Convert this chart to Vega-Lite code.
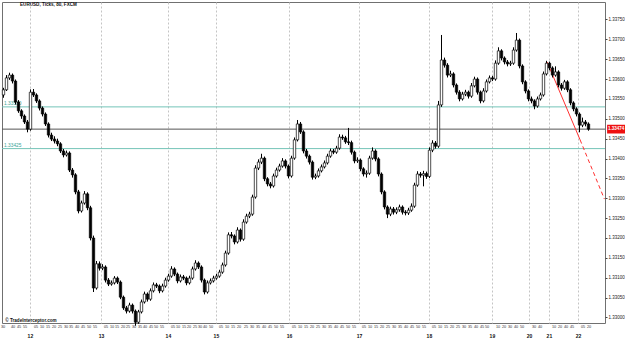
{
"$schema": "https://vega.github.io/schema/vega-lite/v6.json",
"width": 603, "height": 321,
"autosize": "none",
"padding": {"left": 2, "top": 2, "right": 20, "bottom": 20},
"background": "white",
"config": {"view": {"stroke": "#707070", "strokeWidth": 1}, "font": "Liberation Sans", "axis": {"grid": false}},
"datasets": {
"bars": [
{"t":0,"o":1.33560,"h":1.33578,"l":1.33553,"c":1.33573},
{"t":1,"o":1.33573,"h":1.33610,"l":1.33570,"c":1.33603},
{"t":2,"o":1.33603,"h":1.33616,"l":1.33598,"c":1.33610},
{"t":3,"o":1.33610,"h":1.33614,"l":1.33589,"c":1.33595},
{"t":4,"o":1.33595,"h":1.33599,"l":1.33536,"c":1.33542},
{"t":5,"o":1.33542,"h":1.33547,"l":1.33515,"c":1.33520},
{"t":6,"o":1.33520,"h":1.33524,"l":1.33500,"c":1.33507},
{"t":7,"o":1.33507,"h":1.33511,"l":1.33487,"c":1.33492},
{"t":8,"o":1.33492,"h":1.33497,"l":1.33466,"c":1.33474},
{"t":9,"o":1.33474,"h":1.33574,"l":1.33470,"c":1.33567},
{"t":10,"o":1.33567,"h":1.33575,"l":1.33555,"c":1.33560},
{"t":11,"o":1.33560,"h":1.33564,"l":1.33540,"c":1.33545},
{"t":12,"o":1.33545,"h":1.33549,"l":1.33521,"c":1.33527},
{"t":13,"o":1.33527,"h":1.33531,"l":1.33506,"c":1.33512},
{"t":14,"o":1.33512,"h":1.33516,"l":1.33482,"c":1.33487},
{"t":15,"o":1.33487,"h":1.33491,"l":1.33453,"c":1.33459},
{"t":16,"o":1.33459,"h":1.33465,"l":1.33444,"c":1.33449},
{"t":17,"o":1.33449,"h":1.33456,"l":1.33438,"c":1.33444},
{"t":18,"o":1.33444,"h":1.33450,"l":1.33431,"c":1.33437},
{"t":19,"o":1.33437,"h":1.33441,"l":1.33414,"c":1.33419},
{"t":20,"o":1.33419,"h":1.33424,"l":1.33403,"c":1.33409},
{"t":21,"o":1.33409,"h":1.33420,"l":1.33405,"c":1.33414},
{"t":22,"o":1.33414,"h":1.33418,"l":1.33366,"c":1.33371},
{"t":23,"o":1.33371,"h":1.33376,"l":1.33352,"c":1.33359},
{"t":24,"o":1.33359,"h":1.33363,"l":1.33310,"c":1.33316},
{"t":25,"o":1.33316,"h":1.33321,"l":1.33262,"c":1.33268},
{"t":26,"o":1.33268,"h":1.33294,"l":1.33264,"c":1.33288},
{"t":27,"o":1.33288,"h":1.33318,"l":1.33284,"c":1.33311},
{"t":28,"o":1.33311,"h":1.33315,"l":1.33270,"c":1.33276},
{"t":29,"o":1.33276,"h":1.33281,"l":1.33194,"c":1.33200},
{"t":30,"o":1.33200,"h":1.33206,"l":1.33064,"c":1.33074},
{"t":31,"o":1.33074,"h":1.33142,"l":1.33070,"c":1.33135},
{"t":32,"o":1.33135,"h":1.33141,"l":1.33118,"c":1.33124},
{"t":33,"o":1.33124,"h":1.33134,"l":1.33119,"c":1.33127},
{"t":34,"o":1.33127,"h":1.33131,"l":1.33088,"c":1.33094},
{"t":35,"o":1.33094,"h":1.33099,"l":1.33079,"c":1.33084},
{"t":36,"o":1.33084,"h":1.33093,"l":1.33080,"c":1.33087},
{"t":37,"o":1.33087,"h":1.33104,"l":1.33083,"c":1.33099},
{"t":38,"o":1.33099,"h":1.33103,"l":1.33084,"c":1.33089},
{"t":39,"o":1.33089,"h":1.33093,"l":1.33046,"c":1.33051},
{"t":40,"o":1.33051,"h":1.33055,"l":1.33019,"c":1.33024},
{"t":41,"o":1.33024,"h":1.33029,"l":1.33010,"c":1.33016},
{"t":42,"o":1.33016,"h":1.33037,"l":1.33012,"c":1.33031},
{"t":43,"o":1.33031,"h":1.33035,"l":1.33010,"c":1.33016},
{"t":44,"o":1.33016,"h":1.33020,"l":1.32979,"c":1.32988},
{"t":45,"o":1.32988,"h":1.33019,"l":1.32984,"c":1.33014},
{"t":46,"o":1.33014,"h":1.33045,"l":1.33010,"c":1.33039},
{"t":47,"o":1.33039,"h":1.33065,"l":1.33035,"c":1.33059},
{"t":48,"o":1.33059,"h":1.33063,"l":1.33040,"c":1.33046},
{"t":49,"o":1.33046,"h":1.33073,"l":1.33042,"c":1.33067},
{"t":50,"o":1.33067,"h":1.33088,"l":1.33063,"c":1.33082},
{"t":51,"o":1.33082,"h":1.33087,"l":1.33074,"c":1.33079},
{"t":52,"o":1.33079,"h":1.33083,"l":1.33061,"c":1.33067},
{"t":53,"o":1.33067,"h":1.33085,"l":1.33063,"c":1.33079},
{"t":54,"o":1.33079,"h":1.33100,"l":1.33075,"c":1.33094},
{"t":55,"o":1.33094,"h":1.33110,"l":1.33090,"c":1.33104},
{"t":56,"o":1.33104,"h":1.33129,"l":1.33100,"c":1.33122},
{"t":57,"o":1.33122,"h":1.33126,"l":1.33104,"c":1.33109},
{"t":58,"o":1.33109,"h":1.33113,"l":1.33086,"c":1.33092},
{"t":59,"o":1.33092,"h":1.33108,"l":1.33088,"c":1.33102},
{"t":60,"o":1.33102,"h":1.33107,"l":1.33094,"c":1.33099},
{"t":61,"o":1.33099,"h":1.33103,"l":1.33081,"c":1.33087},
{"t":62,"o":1.33087,"h":1.33105,"l":1.33083,"c":1.33099},
{"t":63,"o":1.33099,"h":1.33128,"l":1.33095,"c":1.33122},
{"t":64,"o":1.33122,"h":1.33144,"l":1.33118,"c":1.33137},
{"t":65,"o":1.33137,"h":1.33141,"l":1.33122,"c":1.33127},
{"t":66,"o":1.33127,"h":1.33131,"l":1.33088,"c":1.33094},
{"t":67,"o":1.33094,"h":1.33098,"l":1.33058,"c":1.33064},
{"t":68,"o":1.33064,"h":1.33093,"l":1.33060,"c":1.33087},
{"t":69,"o":1.33087,"h":1.33098,"l":1.33083,"c":1.33092},
{"t":70,"o":1.33092,"h":1.33105,"l":1.33088,"c":1.33099},
{"t":71,"o":1.33099,"h":1.33110,"l":1.33095,"c":1.33104},
{"t":72,"o":1.33104,"h":1.33120,"l":1.33100,"c":1.33114},
{"t":73,"o":1.33114,"h":1.33138,"l":1.33110,"c":1.33132},
{"t":74,"o":1.33132,"h":1.33168,"l":1.33128,"c":1.33162},
{"t":75,"o":1.33162,"h":1.33214,"l":1.33158,"c":1.33208},
{"t":76,"o":1.33208,"h":1.33215,"l":1.33199,"c":1.33205},
{"t":77,"o":1.33205,"h":1.33209,"l":1.33184,"c":1.33190},
{"t":78,"o":1.33190,"h":1.33227,"l":1.33186,"c":1.33220},
{"t":79,"o":1.33220,"h":1.33224,"l":1.33191,"c":1.33197},
{"t":80,"o":1.33197,"h":1.33247,"l":1.33193,"c":1.33240},
{"t":81,"o":1.33240,"h":1.33261,"l":1.33236,"c":1.33255},
{"t":82,"o":1.33255,"h":1.33266,"l":1.33250,"c":1.33260},
{"t":83,"o":1.33260,"h":1.33309,"l":1.33256,"c":1.33303},
{"t":84,"o":1.33303,"h":1.33383,"l":1.33299,"c":1.33376},
{"t":85,"o":1.33376,"h":1.33398,"l":1.33371,"c":1.33391},
{"t":86,"o":1.33391,"h":1.33412,"l":1.33386,"c":1.33401},
{"t":87,"o":1.33401,"h":1.33405,"l":1.33343,"c":1.33349},
{"t":88,"o":1.33349,"h":1.33353,"l":1.33330,"c":1.33336},
{"t":89,"o":1.33336,"h":1.33341,"l":1.33325,"c":1.33331},
{"t":90,"o":1.33331,"h":1.33362,"l":1.33327,"c":1.33356},
{"t":91,"o":1.33356,"h":1.33377,"l":1.33352,"c":1.33371},
{"t":92,"o":1.33371,"h":1.33387,"l":1.33367,"c":1.33381},
{"t":93,"o":1.33381,"h":1.33401,"l":1.33377,"c":1.33394},
{"t":94,"o":1.33394,"h":1.33398,"l":1.33375,"c":1.33381},
{"t":95,"o":1.33381,"h":1.33385,"l":1.33350,"c":1.33356},
{"t":96,"o":1.33356,"h":1.33407,"l":1.33352,"c":1.33401},
{"t":97,"o":1.33401,"h":1.33453,"l":1.33397,"c":1.33447},
{"t":98,"o":1.33447,"h":1.33497,"l":1.33443,"c":1.33487},
{"t":99,"o":1.33487,"h":1.33492,"l":1.33462,"c":1.33467},
{"t":100,"o":1.33467,"h":1.33471,"l":1.33413,"c":1.33419},
{"t":101,"o":1.33419,"h":1.33424,"l":1.33400,"c":1.33406},
{"t":102,"o":1.33406,"h":1.33410,"l":1.33385,"c":1.33391},
{"t":103,"o":1.33391,"h":1.33395,"l":1.33347,"c":1.33353},
{"t":104,"o":1.33353,"h":1.33362,"l":1.33348,"c":1.33356},
{"t":105,"o":1.33356,"h":1.33375,"l":1.33352,"c":1.33369},
{"t":106,"o":1.33369,"h":1.33385,"l":1.33365,"c":1.33379},
{"t":107,"o":1.33379,"h":1.33395,"l":1.33375,"c":1.33389},
{"t":108,"o":1.33389,"h":1.33412,"l":1.33385,"c":1.33406},
{"t":109,"o":1.33406,"h":1.33425,"l":1.33402,"c":1.33419},
{"t":110,"o":1.33419,"h":1.33424,"l":1.33411,"c":1.33416},
{"t":111,"o":1.33416,"h":1.33432,"l":1.33412,"c":1.33426},
{"t":112,"o":1.33426,"h":1.33461,"l":1.33422,"c":1.33454},
{"t":113,"o":1.33454,"h":1.33460,"l":1.33447,"c":1.33452},
{"t":114,"o":1.33452,"h":1.33457,"l":1.33437,"c":1.33442},
{"t":115,"o":1.33442,"h":1.33477,"l":1.33434,"c":1.33440},
{"t":116,"o":1.33440,"h":1.33445,"l":1.33410,"c":1.33416},
{"t":117,"o":1.33416,"h":1.33420,"l":1.33388,"c":1.33394},
{"t":118,"o":1.33394,"h":1.33403,"l":1.33389,"c":1.33396},
{"t":119,"o":1.33396,"h":1.33400,"l":1.33368,"c":1.33374},
{"t":120,"o":1.33374,"h":1.33378,"l":1.33355,"c":1.33361},
{"t":121,"o":1.33361,"h":1.33370,"l":1.33352,"c":1.33363},
{"t":122,"o":1.33363,"h":1.33407,"l":1.33359,"c":1.33401},
{"t":123,"o":1.33401,"h":1.33428,"l":1.33397,"c":1.33419},
{"t":124,"o":1.33419,"h":1.33423,"l":1.33393,"c":1.33399},
{"t":125,"o":1.33399,"h":1.33403,"l":1.33355,"c":1.33361},
{"t":126,"o":1.33361,"h":1.33365,"l":1.33310,"c":1.33316},
{"t":127,"o":1.33316,"h":1.33320,"l":1.33272,"c":1.33278},
{"t":128,"o":1.33278,"h":1.33282,"l":1.33250,"c":1.33260},
{"t":129,"o":1.33260,"h":1.33279,"l":1.33255,"c":1.33273},
{"t":130,"o":1.33273,"h":1.33278,"l":1.33259,"c":1.33265},
{"t":131,"o":1.33265,"h":1.33277,"l":1.33260,"c":1.33271},
{"t":132,"o":1.33271,"h":1.33284,"l":1.33266,"c":1.33278},
{"t":133,"o":1.33278,"h":1.33282,"l":1.33259,"c":1.33265},
{"t":134,"o":1.33265,"h":1.33270,"l":1.33257,"c":1.33263},
{"t":135,"o":1.33263,"h":1.33276,"l":1.33258,"c":1.33270},
{"t":136,"o":1.33270,"h":1.33287,"l":1.33266,"c":1.33280},
{"t":137,"o":1.33280,"h":1.33339,"l":1.33276,"c":1.33333},
{"t":138,"o":1.33333,"h":1.33368,"l":1.33329,"c":1.33361},
{"t":139,"o":1.33361,"h":1.33366,"l":1.33352,"c":1.33358},
{"t":140,"o":1.33358,"h":1.33369,"l":1.33330,"c":1.33362},
{"t":141,"o":1.33362,"h":1.33367,"l":1.33349,"c":1.33355},
{"t":142,"o":1.33355,"h":1.33428,"l":1.33351,"c":1.33421},
{"t":143,"o":1.33421,"h":1.33446,"l":1.33416,"c":1.33439},
{"t":144,"o":1.33439,"h":1.33444,"l":1.33425,"c":1.33431},
{"t":145,"o":1.33431,"h":1.33545,"l":1.33427,"c":1.33535},
{"t":146,"o":1.33535,"h":1.33711,"l":1.33530,"c":1.33648},
{"t":147,"o":1.33648,"h":1.33654,"l":1.33629,"c":1.33635},
{"t":148,"o":1.33635,"h":1.33640,"l":1.33604,"c":1.33610},
{"t":149,"o":1.33610,"h":1.33621,"l":1.33605,"c":1.33613},
{"t":150,"o":1.33613,"h":1.33617,"l":1.33579,"c":1.33585},
{"t":151,"o":1.33585,"h":1.33589,"l":1.33561,"c":1.33567},
{"t":152,"o":1.33567,"h":1.33572,"l":1.33544,"c":1.33550},
{"t":153,"o":1.33550,"h":1.33568,"l":1.33546,"c":1.33562},
{"t":154,"o":1.33562,"h":1.33573,"l":1.33557,"c":1.33567},
{"t":155,"o":1.33567,"h":1.33571,"l":1.33551,"c":1.33557},
{"t":156,"o":1.33557,"h":1.33590,"l":1.33553,"c":1.33583},
{"t":157,"o":1.33583,"h":1.33606,"l":1.33579,"c":1.33600},
{"t":158,"o":1.33600,"h":1.33604,"l":1.33561,"c":1.33567},
{"t":159,"o":1.33567,"h":1.33571,"l":1.33539,"c":1.33545},
{"t":160,"o":1.33545,"h":1.33577,"l":1.33541,"c":1.33570},
{"t":161,"o":1.33570,"h":1.33599,"l":1.33566,"c":1.33593},
{"t":162,"o":1.33593,"h":1.33609,"l":1.33589,"c":1.33603},
{"t":163,"o":1.33603,"h":1.33608,"l":1.33595,"c":1.33600},
{"t":164,"o":1.33600,"h":1.33647,"l":1.33596,"c":1.33640},
{"t":165,"o":1.33640,"h":1.33680,"l":1.33636,"c":1.33671},
{"t":166,"o":1.33671,"h":1.33675,"l":1.33647,"c":1.33653},
{"t":167,"o":1.33653,"h":1.33657,"l":1.33637,"c":1.33643},
{"t":168,"o":1.33643,"h":1.33648,"l":1.33632,"c":1.33638},
{"t":169,"o":1.33638,"h":1.33646,"l":1.33633,"c":1.33640},
{"t":170,"o":1.33640,"h":1.33680,"l":1.33636,"c":1.33673},
{"t":171,"o":1.33673,"h":1.33716,"l":1.33669,"c":1.33698},
{"t":172,"o":1.33698,"h":1.33702,"l":1.33627,"c":1.33633},
{"t":173,"o":1.33633,"h":1.33637,"l":1.33587,"c":1.33593},
{"t":174,"o":1.33593,"h":1.33597,"l":1.33564,"c":1.33570},
{"t":175,"o":1.33570,"h":1.33574,"l":1.33544,"c":1.33550},
{"t":176,"o":1.33550,"h":1.33556,"l":1.33539,"c":1.33545},
{"t":177,"o":1.33545,"h":1.33549,"l":1.33524,"c":1.33532},
{"t":178,"o":1.33532,"h":1.33556,"l":1.33528,"c":1.33550},
{"t":179,"o":1.33550,"h":1.33566,"l":1.33546,"c":1.33560},
{"t":180,"o":1.33560,"h":1.33619,"l":1.33556,"c":1.33613},
{"t":181,"o":1.33613,"h":1.33646,"l":1.33609,"c":1.33640},
{"t":182,"o":1.33640,"h":1.33644,"l":1.33622,"c":1.33628},
{"t":183,"o":1.33628,"h":1.33632,"l":1.33604,"c":1.33610},
{"t":184,"o":1.33610,"h":1.33632,"l":1.33606,"c":1.33618},
{"t":185,"o":1.33618,"h":1.33622,"l":1.33579,"c":1.33585},
{"t":186,"o":1.33585,"h":1.33590,"l":1.33571,"c":1.33577},
{"t":187,"o":1.33577,"h":1.33598,"l":1.33573,"c":1.33593},
{"t":188,"o":1.33593,"h":1.33597,"l":1.33567,"c":1.33573},
{"t":189,"o":1.33573,"h":1.33577,"l":1.33534,"c":1.33540},
{"t":190,"o":1.33540,"h":1.33544,"l":1.33519,"c":1.33525},
{"t":191,"o":1.33525,"h":1.33529,"l":1.33506,"c":1.33512},
{"t":192,"o":1.33512,"h":1.33516,"l":1.33466,"c":1.33484},
{"t":193,"o":1.33484,"h":1.33503,"l":1.33479,"c":1.33492},
{"t":194,"o":1.33492,"h":1.33497,"l":1.33481,"c":1.33487},
{"t":195,"o":1.33487,"h":1.33491,"l":1.33470,"c":1.33474}
],
"mins": [
{"t":-0.17,"m":"30"},{"t":3.17,"m":"40"},{"t":5.17,"m":"45"},{"t":7.17,"m":"55"},
{"t":10.83,"m":"05"},{"t":12.83,"m":"10"},{"t":14.83,"m":"15"},{"t":16.83,"m":"20"},{"t":18.83,"m":"25"},{"t":20.83,"m":"30"},{"t":22.5,"m":"35"},{"t":24.5,"m":"40"},{"t":26.5,"m":"45"},{"t":28.5,"m":"50"},{"t":30.5,"m":"55"},
{"t":34.17,"m":"05"},{"t":36.17,"m":"10"},{"t":37.83,"m":"15"},{"t":39.83,"m":"20"},{"t":41.5,"m":"25"},{"t":43.5,"m":"30"},{"t":45.5,"m":"35"},{"t":47.17,"m":"40"},{"t":49.17,"m":"45"},{"t":50.83,"m":"50"},{"t":52.83,"m":"55"},
{"t":56.5,"m":"05"},{"t":58.17,"m":"10"},{"t":60.17,"m":"15"},{"t":61.83,"m":"20"},{"t":63.83,"m":"25"},{"t":65.5,"m":"30"},{"t":67.17,"m":"40"},{"t":69.17,"m":"50"},
{"t":72.5,"m":"05"},{"t":74.5,"m":"10"},{"t":76.5,"m":"15"},{"t":78.5,"m":"20"},{"t":80.83,"m":"25"},{"t":82.83,"m":"30"},{"t":84.83,"m":"35"},{"t":86.83,"m":"40"},{"t":88.83,"m":"45"},{"t":90.83,"m":"50"},{"t":92.83,"m":"55"},
{"t":96.83,"m":"05"},{"t":98.83,"m":"10"},{"t":100.83,"m":"15"},{"t":102.83,"m":"20"},{"t":104.83,"m":"25"},{"t":106.83,"m":"30"},{"t":108.83,"m":"35"},{"t":110.83,"m":"40"},{"t":112.83,"m":"45"},{"t":114.83,"m":"50"},{"t":116.83,"m":"55"},
{"t":120.17,"m":"05"},{"t":122.17,"m":"10"},{"t":124.17,"m":"15"},{"t":126.17,"m":"20"},{"t":128.17,"m":"25"},{"t":130.17,"m":"30"},{"t":132.17,"m":"35"},{"t":134.17,"m":"40"},{"t":136.17,"m":"45"},{"t":138.17,"m":"50"},{"t":140.17,"m":"55"},
{"t":143.5,"m":"05"},{"t":145.5,"m":"10"},{"t":147.5,"m":"15"},{"t":149.5,"m":"20"},{"t":151.5,"m":"25"},{"t":153.5,"m":"30"},{"t":155.5,"m":"35"},{"t":157.5,"m":"40"},{"t":159.5,"m":"45"},{"t":161.17,"m":"50"},
{"t":164.83,"m":"10"},{"t":166.83,"m":"20"},{"t":168.83,"m":"30"},{"t":170.83,"m":"40"},{"t":172.83,"m":"50"},
{"t":176.83,"m":"30"},{"t":178.83,"m":"40"},
{"t":183.5,"m":"10"},{"t":185.5,"m":"20"},{"t":187.5,"m":"40"},{"t":189.5,"m":"45"},
{"t":193.17,"m":"05"},{"t":195.17,"m":"20"}
],
"hlines": [
{"p":1.33530,"col":"#74c4b8","label":"1.33530"},
{"p":1.33425,"col":"#74c4b8","label":"1.33425"},
{"p":1.33474,"col":"#555555","label":""}
],
"trendSolid": [{"t":181.2,"p":1.33643},{"t":192.2,"p":1.33447}],
"trendDash": [{"t":192.2,"p":1.33447},{"t":200.3,"p":1.33298}],
"tag": [{"t1":201.2,"t2":207.3,"p1":1.33485,"p2":1.33463,"t":204.2,"p":1.33474,"label":"1.33474"}],
"notes": [
{"t":5.5,"p":1.33786,"label":"EURUSD, Ticks, 80, FXCM"},
{"t":0.6,"p":1.32992,"label":"© TradeInterceptor.com"}
]
},
"layer": [
{
"data": {"name": "hlines"},
"mark": {"type": "rule", "strokeWidth": 1},
"encoding": {
"y": {"field": "p", "type": "quantitative", "scale": {"domain": [1.32986, 1.33794], "nice": false, "zero": false, "padding": 0}, "axis": null},
"color": {"field": "col", "type": "nominal", "scale": null, "legend": null}
}
},
{
"data": {"name": "hlines"},
"mark": {"type": "text", "fontSize": 4.8, "align": "left", "baseline": "bottom", "dy": -1, "color": "#3aa597"},
"encoding": {
"x": {"datum": 0.2, "type": "quantitative", "scale": {"domain": [-0.5, 200.5], "nice": false, "zero": false, "padding": 0}, "axis": null},
"y": {"field": "p", "type": "quantitative", "axis": null},
"text": {"field": "label"}
}
},
{
"data": {"name": "trendSolid"},
"mark": {"type": "line", "color": "#ff3030", "strokeWidth": 1},
"encoding": {
"x": {"field": "t", "type": "quantitative", "axis": null},
"y": {"field": "p", "type": "quantitative", "axis": null}
}
},
{
"data": {"name": "trendDash"},
"mark": {"type": "line", "color": "#ff3030", "strokeWidth": 1, "strokeDash": [4, 3]},
"encoding": {
"x": {"field": "t", "type": "quantitative", "axis": null},
"y": {"field": "p", "type": "quantitative", "axis": null}
}
},
{
"data": {"name": "bars"},
"mark": {"type": "rule", "color": "black", "strokeWidth": 1},
"encoding": {
"x": {"field": "t", "type": "quantitative",
"axis": {"values": [8.8, 32.5, 54.8, 70.8, 95.2, 118.5, 141.8, 162.8, 175.2, 181.8, 191.5],
"labelExpr": "datum.value < 10 ? '12' : datum.value < 33 ? '13' : datum.value < 55 ? '14' : datum.value < 71 ? '15' : datum.value < 96 ? '16' : datum.value < 119 ? '17' : datum.value < 142 ? '18' : datum.value < 163 ? '19' : datum.value < 176 ? '20' : datum.value < 182 ? '21' : '22'",
"ticks": false, "domain": false, "grid": true, "gridDash": [2, 2], "gridColor": "#c4c4c4", "gridOpacity": 1, "title": null, "labelFontSize": 5, "labelFontWeight": "bold", "labelPadding": 10, "labelColor": "#111", "labelBaseline": "top"}},
"y": {"field": "l", "type": "quantitative", "axis": null},
"y2": {"field": "h"}
}
},
{
"data": {"name": "bars"},
"mark": {"type": "bar", "width": 2.4, "stroke": "black", "strokeWidth": 0.7},
"encoding": {
"x": {"field": "t", "type": "quantitative", "axis": null},
"y": {"field": "o", "type": "quantitative",
"axis": {"orient": "right", "values": [1.33, 1.3305, 1.331, 1.3315, 1.332, 1.3325, 1.333, 1.3335, 1.334, 1.3345, 1.335, 1.3355, 1.336, 1.3365, 1.337, 1.3375],
"format": ".5f", "labelFontSize": 4.5, "tickSize": 2, "tickColor": "#444", "domain": false, "grid": false, "title": null, "labelPadding": 1, "labelColor": "#222"}},
"y2": {"field": "c"},
"fill": {"condition": {"test": "datum.c > datum.o", "value": "white"}, "value": "black"}
}
},
{
"data": {"name": "mins"},
"mark": {"type": "text", "color": "#333", "fontSize": 3.8, "baseline": "middle", "align": "center"},
"encoding": {
"x": {"field": "t", "type": "quantitative", "axis": null},
"y": {"datum": 1.32975, "type": "quantitative", "axis": null},
"text": {"field": "m"}
}
},
{
"data": {"name": "tag"},
"mark": {"type": "rect", "color": "#ee1111", "clip": false},
"encoding": {
"x": {"field": "t1", "type": "quantitative", "axis": null},
"x2": {"field": "t2"},
"y": {"field": "p1", "type": "quantitative", "axis": null},
"y2": {"field": "p2"}
}
},
{
"data": {"name": "tag"},
"mark": {"type": "text", "color": "white", "fontSize": 4.5, "fontWeight": "bold", "baseline": "middle", "align": "center"},
"encoding": {
"x": {"field": "t", "type": "quantitative", "axis": null},
"y": {"field": "p", "type": "quantitative", "axis": null},
"text": {"field": "label"}
}
},
{
"data": {"name": "notes"},
"mark": {"type": "text", "color": "#111", "fontSize": 4.6, "fontWeight": "bold", "baseline": "middle", "align": "left"},
"encoding": {
"x": {"field": "t", "type": "quantitative", "axis": null},
"y": {"field": "p", "type": "quantitative", "axis": null},
"text": {"field": "label"}
}
}
],
"resolve": {"axis": {"x": "independent", "y": "independent"}}
}
